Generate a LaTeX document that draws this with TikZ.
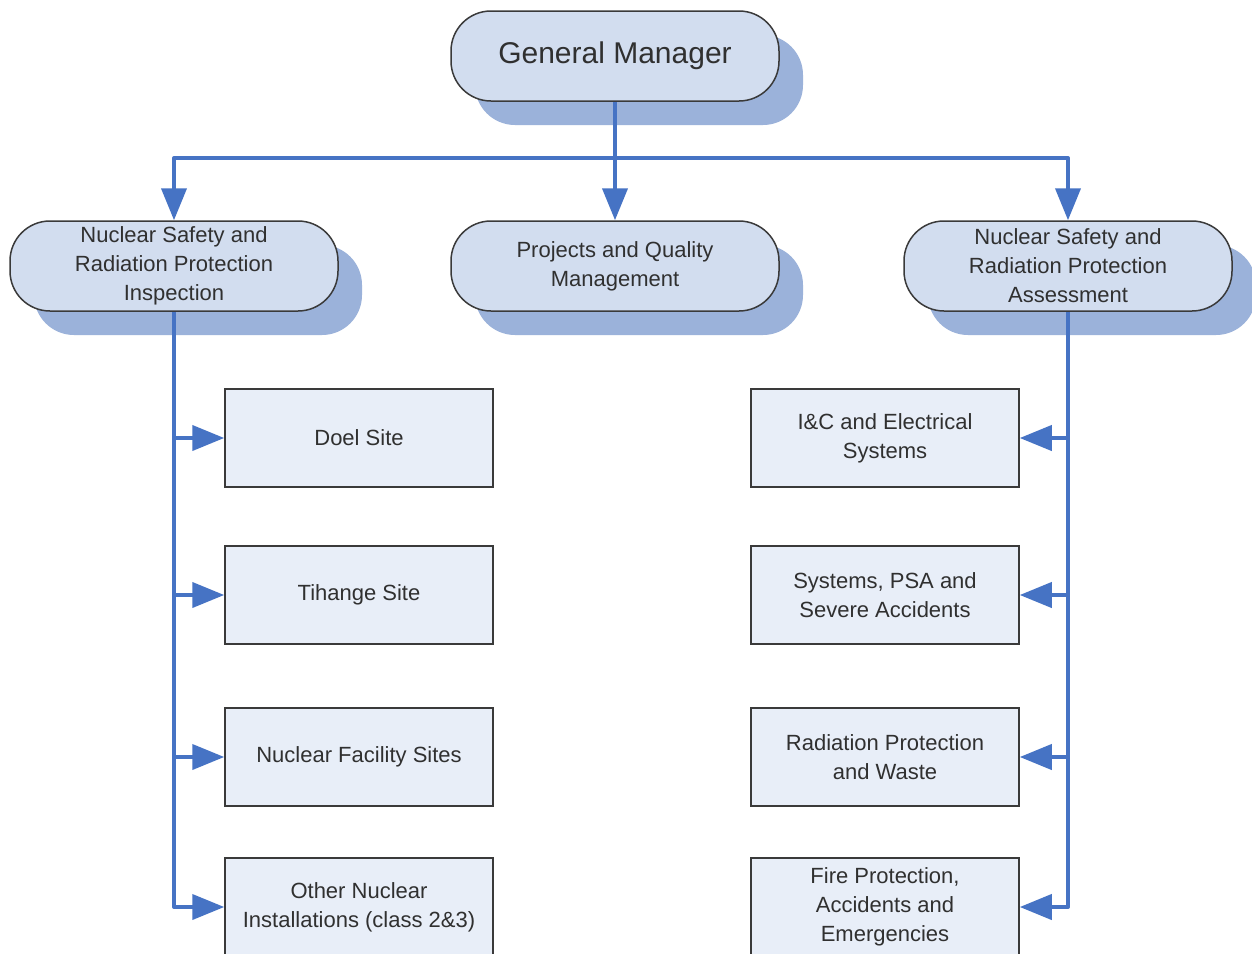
\documentclass[tikz,border=0pt]{standalone}
\usepackage{fontspec}
\setmainfont{Liberation Sans}
\usetikzlibrary{arrows.meta,shadows}
\definecolor{linkblue}{HTML}{4673C4}
\definecolor{pillfill}{HTML}{D2DDEF}
\definecolor{shadowblue}{HTML}{9BB2DA}
\definecolor{boxfill}{HTML}{E8EEF8}
\definecolor{edge}{HTML}{3A3A3A}
\definecolor{txt}{HTML}{303030}
\tikzset{
  pill/.style={draw=edge, line width=1.5pt, fill=pillfill, rounded corners=40pt,
    minimum width=328pt, minimum height=90pt, inner sep=0pt, align=center, text=txt,
    font=\fontsize{22}{29}\selectfont,
    drop shadow={shadow xshift=24pt, shadow yshift=-24pt, fill=shadowblue, opacity=1}},
  unitbox/.style={draw=edge, line width=1.5pt, fill=boxfill, minimum width=268pt,
    minimum height=98pt, inner sep=0pt, align=center, text=txt,
    font=\fontsize{22}{29}\selectfont},
  link/.style={draw=linkblue, line width=4pt, line join=round},
  arrowlink/.style={link, -{Triangle[length=32pt,width=25pt]}},
}
\begin{document}
\begin{tikzpicture}[x=1pt,y=-1pt]
\useasboundingbox[fill=white] (0,0) rectangle (1252,953);
% top
\node[pill, font=\fontsize{30}{36}\selectfont] (gm) at (615,56) {General Manager};
\node[pill] (ins) at (174,266) {Nuclear Safety and\\Radiation Protection\\Inspection};
\node[pill] (pqm) at (615,266) {Projects and Quality\\Management};
\node[pill] (ass) at (1068,266) {Nuclear Safety and\\Radiation Protection\\Assessment};
% left boxes
\node[unitbox] (doel) at (359,438) {Doel Site};
\node[unitbox] (tih) at (359,595) {Tihange Site};
\node[unitbox] (nfs) at (359,757) {Nuclear Facility Sites};
\node[unitbox] (oth) at (359,907) {Other Nuclear\\Installations (class 2\&3)};
% right boxes
\node[unitbox] (ic) at (885,438) {I\&C and Electrical\\Systems};
\node[unitbox] (psa) at (885,595) {Systems, PSA and\\Severe Accidents};
\node[unitbox] (rpw) at (885,757) {Radiation Protection\\and Waste};
\node[unitbox] (fire) at (885,907) {Fire Protection,\\Accidents and\\Emergencies};
% top connectors
\coordinate (hub) at (615,158);
\draw[link] (gm.south) -- (hub);
\draw[arrowlink] (hub) -| (ins.north);
\draw[arrowlink] (hub) -- (pqm.north);
\draw[arrowlink] (hub) -| (ass.north);
% left branch
\draw[arrowlink] (ins.south) |- (oth.west);
\draw[arrowlink] (ins.south |- doel.west) -- (doel.west);
\draw[arrowlink] (ins.south |- tih.west) -- (tih.west);
\draw[arrowlink] (ins.south |- nfs.west) -- (nfs.west);
% right branch
\draw[arrowlink] (ass.south) |- (fire.east);
\draw[arrowlink] (ass.south |- ic.east) -- (ic.east);
\draw[arrowlink] (ass.south |- psa.east) -- (psa.east);
\draw[arrowlink] (ass.south |- rpw.east) -- (rpw.east);
\end{tikzpicture}
\end{document}
